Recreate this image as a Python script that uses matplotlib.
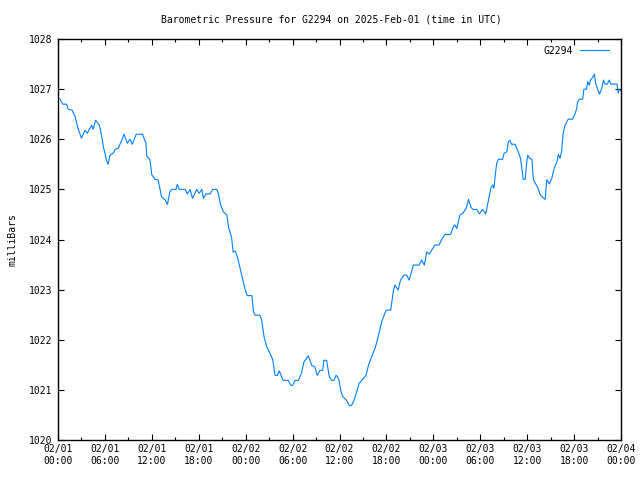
import numpy as np
import pandas as pd
import matplotlib
matplotlib.use('Agg')
import matplotlib.pyplot as plt
import matplotlib.dates as mdates

# readings, hours after 2025-02-01 00:00 UTC
hours = [0.26, 0.6, 1.1, 1.3, 1.8, 2.2, 2.5, 3.0, 3.45, 3.75, 4.3, 4.5, 4.8, 5.3, 5.6, 5.8,
         6.0, 6.2, 6.4, 6.65, 7.1, 7.3, 7.7, 8.15, 8.45, 8.85, 9.2, 9.5, 10.0, 10.8, 11.0,
         11.25, 11.35, 11.75, 12.0, 12.4, 12.8, 13.25, 13.7, 14.0, 14.3, 14.55, 15.1, 15.25,
         15.5, 16.25, 16.55, 16.9, 17.2, 17.75, 18.05, 18.4, 18.6, 18.9, 19.45, 19.8, 20.3,
         20.5, 20.8, 21.15, 21.6, 21.8, 22.2, 22.4, 22.65, 22.95, 23.3, 23.6, 23.9, 24.2,
         24.8, 25.0, 25.2, 25.8, 26.05, 26.35, 26.7, 27.1, 27.45, 27.75, 28.05, 28.3, 28.6,
         28.8, 29.45, 29.75, 30.0, 30.3, 30.75, 31.15, 31.45, 31.7, 32.0, 32.45, 32.85,
         33.15, 33.5, 33.85, 34.0, 34.35, 34.7, 35.0, 35.3, 35.55, 35.7, 35.95, 36.15, 36.4,
         36.9, 37.25, 37.55, 37.85, 38.2, 38.5, 38.85, 39.4, 39.7, 40.1, 40.55, 40.95, 41.4,
         41.8, 42.0, 42.55, 42.9, 43.1, 43.5, 43.8, 44.25, 44.6, 44.9, 45.45, 46.2, 46.5,
         46.85, 47.15, 47.5, 47.8, 48.2, 48.75, 49.05, 49.5, 50.2, 50.55, 50.75, 51.0, 51.4,
         51.75, 52.2, 52.5, 52.8, 53.05, 53.55, 53.9, 54.3, 54.7, 55.0, 55.35, 55.6, 55.75,
         55.9, 56.1, 56.3, 56.85, 57.05, 57.4, 57.6, 57.8, 58.0, 58.45, 58.85, 59.15, 59.4,
         59.5, 59.75, 59.95, 60.07, 60.3, 60.6, 60.8, 61.15, 61.4, 61.65, 62.0, 62.3, 62.5,
         62.85, 63.15, 63.45, 63.8, 64.0, 64.2, 64.4, 64.6, 64.85, 65.25, 65.8, 66.1, 66.35,
         66.4, 66.65, 67.1, 67.25, 67.6, 67.75, 67.95, 68.1, 68.4, 68.6, 68.75, 69.0, 69.25,
         69.55, 69.75, 69.95, 70.25, 70.5, 70.7, 71.5, 71.65, 71.75, 71.95]
pressure = [1026.80, 1026.70, 1026.70, 1026.60, 1026.58, 1026.45, 1026.25, 1026.02, 1026.18,
            1026.12, 1026.28, 1026.20, 1026.38, 1026.28, 1026.05, 1025.85, 1025.72, 1025.58,
            1025.50, 1025.68, 1025.73, 1025.80, 1025.82, 1025.98, 1026.10, 1025.92, 1026.00,
            1025.90, 1026.10, 1026.10, 1026.02, 1025.92, 1025.66, 1025.60, 1025.29, 1025.20,
            1025.19, 1024.85, 1024.79, 1024.70, 1024.95, 1025.00, 1025.00, 1025.10, 1025.00,
            1025.00, 1024.91, 1025.00, 1024.82, 1025.00, 1024.92, 1025.00, 1024.82, 1024.91,
            1024.91, 1025.00, 1025.00, 1024.92, 1024.69, 1024.55, 1024.49, 1024.25, 1024.04,
            1023.75, 1023.77, 1023.65, 1023.42, 1023.22, 1023.02, 1022.88, 1022.88, 1022.56,
            1022.49, 1022.49, 1022.39, 1022.06, 1021.86, 1021.73, 1021.61, 1021.29, 1021.29,
            1021.38, 1021.26, 1021.19, 1021.19, 1021.09, 1021.09, 1021.19, 1021.19, 1021.34,
            1021.56, 1021.61, 1021.68, 1021.49, 1021.46, 1021.29, 1021.39, 1021.39, 1021.59,
            1021.59, 1021.26, 1021.19, 1021.19, 1021.29, 1021.27, 1021.19, 1020.99, 1020.87,
            1020.79, 1020.69, 1020.69, 1020.79, 1020.96, 1021.13, 1021.19, 1021.29, 1021.49,
            1021.66, 1021.83, 1022.06, 1022.36, 1022.53, 1022.59, 1022.59, 1022.99, 1023.09,
            1022.99, 1023.19, 1023.29, 1023.29, 1023.19, 1023.49, 1023.49, 1023.59, 1023.49,
            1023.75, 1023.71, 1023.79, 1023.89, 1023.89, 1024.00, 1024.10, 1024.10, 1024.25,
            1024.29, 1024.22, 1024.49, 1024.52, 1024.62, 1024.80, 1024.65, 1024.60, 1024.60,
            1024.51, 1024.60, 1024.51, 1024.75, 1025.02, 1025.09, 1025.02, 1025.25, 1025.52,
            1025.60, 1025.60, 1025.72, 1025.75, 1025.95, 1025.98, 1025.90, 1025.90, 1025.75,
            1025.62, 1025.32, 1025.20, 1025.20, 1025.55, 1025.68, 1025.62, 1025.60, 1025.19,
            1025.09, 1025.02, 1024.90, 1024.84, 1024.80, 1025.19, 1025.11, 1025.22, 1025.42,
            1025.55, 1025.70, 1025.62, 1025.75, 1026.12, 1026.28, 1026.40, 1026.40, 1026.50,
            1026.62, 1026.72, 1026.80, 1026.80, 1027.00, 1027.00, 1027.15, 1027.08, 1027.18,
            1027.24, 1027.30, 1027.12, 1027.00, 1026.90, 1027.02, 1027.18, 1027.10, 1027.10,
            1027.18, 1027.10, 1027.10, 1026.92, 1027.00, 1026.97]

station = "G2294"
start = pd.Timestamp("2025-02-01 00:00")
end = pd.Timestamp("2025-02-04 00:00")
times = start + pd.to_timedelta(hours, unit="h")

plt.rcParams['font.family'] = ['DejaVu Sans Mono']
plt.rcParams['font.size'] = 7

fig = plt.figure(figsize=(6.4, 4.8), dpi=100)
ax = fig.add_axes([58/640, 40/480, 563/640, 401/480])

ax.plot(times, pressure, color='#0080ff', lw=0.8, label=station)

ax.set_xlim(start, end)
ax.set_ylim(1020, 1028)
ax.set_yticks(np.arange(1020, 1029, 1))
ax.yaxis.set_major_formatter(plt.FormatStrFormatter('%d'))
ax.xaxis.set_major_locator(mdates.HourLocator(byhour=[0, 6, 12, 18]))
ax.xaxis.set_minor_locator(mdates.HourLocator(byhour=[3, 9, 15, 21]))
ax.xaxis.set_major_formatter(mdates.DateFormatter('%m/%d\n%H:%M'))

ax.tick_params(which='major', direction='in', length=4, width=0.8, top=True, right=True, pad=4)
ax.tick_params(which='minor', direction='in', length=2, width=0.8, top=True, right=False)
ax.tick_params(axis='x', which='major', pad=3)
for s in ax.spines.values():
    s.set_linewidth(1.0)

ax.set_ylabel('milliBars', labelpad=8)
fig.text(331/640, 1 - 20/480, "Barometric Pressure for %s on 2025-Feb-01 (time in UTC)" % station,
         ha='center', va='center', fontsize=7)

ax.legend(loc='upper right', bbox_to_anchor=(0.991, 1.0), frameon=False, markerfirst=False,
          handlelength=3.0, borderaxespad=0.3, handletextpad=0.7, fontsize=7)

fig.savefig('out.png', dpi=100)
